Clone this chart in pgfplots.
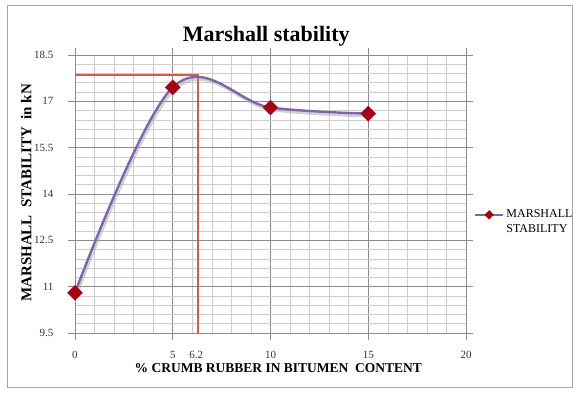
\documentclass[border=0pt]{standalone}
\usepackage{pgfplots}
\pgfplotsset{compat=1.18}
\usepackage{fontspec}
\setmainfont{Liberation Serif}
\definecolor{linepurple}{RGB}{128,100,170}
\definecolor{mkred}{RGB}{165,0,20}
\definecolor{refred}{RGB}{210,90,80}
\definecolor{majgrid}{RGB}{140,140,140}
\definecolor{mingrid}{RGB}{205,205,205}
\begin{document}
\begin{tikzpicture}[x=1pt,y=1pt]
\path[use as bounding box] (0,0) rectangle (573,398);
\draw[gray!70, line width=0.8pt] (7,11) rectangle (572,393);
\begin{axis}[
  at={(75pt,65pt)}, anchor=south west,
  scale only axis, width=391pt, height=278pt,
  xmin=0, xmax=20, ymin=9.5, ymax=18.5,
  xtick={0,5,10,15,20}, extra x ticks={6.2},
  extra x tick style={grid=none, tick style={draw=none}},
  ytick={9.5,11,12.5,14,15.5,17,18.5},
  yticklabels={9.5,11,12.5,14,15.5,17,18.5},
  xticklabels={0,5,10,15,20},
  minor x tick num=4, minor y tick num=4,
  grid=both,
  major grid style={majgrid, line width=0.7pt},
  minor grid style={mingrid, line width=0.6pt},
  axis line style={majgrid, line width=0.9pt},
  tick align=outside, tick style={majgrid, line width=0.7pt},
  major tick length=7pt, minor tick length=0pt,
  /pgf/number format/assume math mode=true,
  tick label style={font=\fontsize{11}{12}\selectfont, text=black!80},
  xticklabel style={yshift=-8pt},
  yticklabel style={xshift=-11pt},
  title={Marshall stability},
  title style={at={(rel axis cs:0.489,1.045)}, anchor=center, font=\bfseries\fontsize{22}{24}\selectfont},
  xlabel={\% CRUMB RUBBER  IN BITUMEN \ CONTENT},
  xlabel style={at={(rel axis cs:0.52,-0.126)}, anchor=center, font=\bfseries\fontsize{13.5}{15}\selectfont},
  ylabel={MARSHALL \ STABILITY \ in kN},
  ylabel style={at={(rel axis cs:-0.125,0.504)}, anchor=center, rotate=0, font=\bfseries\fontsize{15}{17}\selectfont},
  legend style={at={(rel axis cs:1.02,0.40)}, anchor=west, draw=none, fill=none,
    font=\fontsize{12}{15}\selectfont, cells={align=left}, inner sep=0pt},
  legend image code/.code={
    \draw[linepurple, line width=2.4pt] (0pt,7pt) -- (28pt,7pt);
    \fill[mkred] (14pt,7pt) +(-3pt,0pt) -- +(0pt,3pt) -- +(3pt,0pt) -- +(0pt,-3pt) -- cycle;
  },
]
\addplot[refred, line width=1.6pt, forget plot] coordinates {(0,17.86) (6.3,17.86) (6.3,9.5)};
\addplot[black!35, line width=2.6pt, smooth, tension=0.6, forget plot, opacity=0.5, shift={(1.5pt,-2.5pt)}] coordinates {(0,10.8) (5,17.45) (10,16.8) (15,16.6)};
\addplot[linepurple, line width=2.4pt, smooth, tension=0.6,
  mark=square*, mark size=5.3pt, mark options={rotate=45, fill=mkred, draw=mkred, line width=0.3pt}]
  coordinates {(0,10.8) (5,17.45) (10,16.8) (15,16.6)};
\addlegendentry{MARSHALL\\STABILITY}
\end{axis}
\end{tikzpicture}
\end{document}
